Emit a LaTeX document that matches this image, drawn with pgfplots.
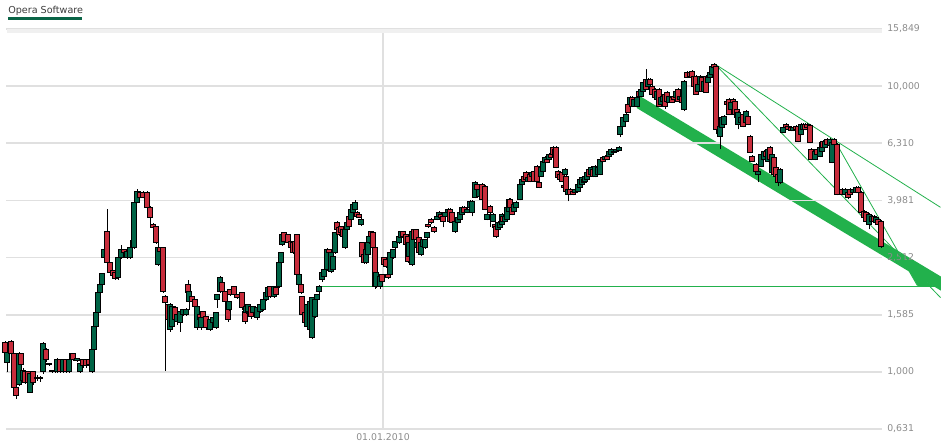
\documentclass[border=0pt]{standalone}
\usepackage{fontspec}
\setmainfont{DejaVu Sans}
\usepackage{pgfplots}
\usepackage{pgfplotstable}
\pgfplotsset{compat=1.18}
\definecolor{cgreen}{RGB}{0,100,70}
\definecolor{cred}{RGB}{200,45,60}
\definecolor{tline}{RGB}{34,177,76}
\definecolor{gridc}{RGB}{224,224,224}
\definecolor{labc}{RGB}{140,140,140}
\definecolor{titc}{RGB}{60,60,60}
\definecolor{uline}{RGB}{10,100,70}
\definecolor{topband}{RGB}{240,240,240}

\pgfdeclareplotmark{candle}{%
  \pgfsetlinewidth{0.6pt}%
  \pgfsetstrokecolor{black}%
  \pgfpathmoveto{\pgfqpoint{0pt}{\cwl pt}}%
  \pgfpathlineto{\pgfqpoint{0pt}{\cwh pt}}%
  \pgfusepathqstroke
  \ifdim\cbh pt<0pt \pgfsetfillcolor{cred}\else\pgfsetfillcolor{cgreen}\fi
  \pgfpathrectangle{\pgfqpoint{-1.7pt}{0pt}}{\pgfqpoint{3.4pt}{\cbh pt}}%
  \pgfusepathqfillstroke
}

\pgfplotstableread{
x o h l c
5 1.264 1.285 1.138 1.166
7 1.075 1.185 1.000 1.166
11 1.274 1.295 1.138 1.156
14 1.156 1.166 0.872 0.886
16 0.879 0.886 0.805 0.824
19 0.907 1.175 0.893 1.156
21 1.156 1.166 1.041 1.058
23 0.937 1.033 0.915 1.016
25 1.000 1.008 0.907 0.922
28 1.000 1.008 0.893 0.915
30 0.850 1.000 0.844 0.984
33 1.000 1.008 0.900 0.915
37 0.945 0.976 0.930 0.960
40 0.960 0.968 0.922 0.945
43 1.000 1.274 0.984 1.254
46 1.195 1.214 1.084 1.102
49 1.058 1.075 1.050 1.067
52 1.008 1.016 0.992 1.000
55 1.000 1.016 0.992 1.008
57 1.000 1.120 0.992 1.102
60 1.102 1.111 0.992 1.000
63 1.000 1.111 0.992 1.102
66 1.102 1.111 0.992 1.000
69 1.000 1.166 0.992 1.102
73 1.156 1.166 1.093 1.102
77 1.093 1.120 1.084 1.111
80 1.000 1.084 0.992 1.067
83 1.102 1.111 1.033 1.050
86 1.102 1.111 1.033 1.050
89 1.102 1.111 1.050 1.058
92 1.000 1.204 0.992 1.195
94 1.195 1.450 1.185 1.439
96 1.439 1.624 1.427 1.611
98 1.611 1.908 1.598 1.893
100 1.893 2.036 1.878 2.020
102 2.020 2.226 2.003 2.208
104 2.512 2.790 2.492 2.680
107 3.099 3.702 2.374 2.413
110 2.413 2.432 2.190 2.226
113 2.262 2.280 2.155 2.172
115 2.226 2.244 2.103 2.120
118 2.137 2.533 2.103 2.512
121 2.512 2.790 2.492 2.680
124 2.680 2.702 2.595 2.616
127 2.512 2.658 2.492 2.637
130 2.512 2.905 2.492 2.724
134 2.724 3.950 2.702 3.918
137 3.918 4.351 3.886 4.282
140 4.247 4.282 4.047 4.079
143 4.247 4.282 4.047 4.079
147 4.247 4.282 3.732 3.763
150 3.763 3.793 3.201 3.471
153 3.280 3.306 3.150 3.201
156 3.227 3.253 2.813 2.836
158 2.374 2.836 2.355 2.724
160 2.724 2.746 2.616 2.637
163 2.724 2.746 1.893 1.908
165 1.833 1.863 1.008 1.746
168 1.718 1.732 1.498 1.522
170 1.404 1.746 1.382 1.718
172 1.439 1.718 1.416 1.690
175 1.677 1.704 1.498 1.522
177 1.498 1.611 1.462 1.585
180 1.486 1.637 1.382 1.624
183 1.585 1.663 1.572 1.650
186 1.585 1.677 1.572 1.650
188 2.020 2.103 1.863 1.893
189 1.760 1.924 1.650 1.908
192 1.833 1.848 1.746 1.760
195 1.789 1.803 1.677 1.690
197 1.427 1.704 1.404 1.690
200 1.585 1.598 1.498 1.522
201 1.427 1.560 1.404 1.547
203 1.624 1.637 1.522 1.547
206 1.560 1.572 1.404 1.427
210 1.404 1.535 1.393 1.522
213 1.486 1.560 1.474 1.547
216 1.427 1.624 1.416 1.611
217 1.789 1.878 1.677 1.863
220 1.908 2.172 1.893 2.137
222 2.053 2.069 1.893 1.908
225 1.908 1.924 1.746 1.760
228 1.746 1.760 1.498 1.522
229 1.650 1.774 1.637 1.760
230 1.940 1.955 1.848 1.863
234 1.987 2.003 1.848 1.863
237 1.863 1.878 1.803 1.818
242 1.893 1.908 1.650 1.677
245 1.624 1.637 1.474 1.498
246 1.611 1.704 1.598 1.690
248 1.624 1.732 1.611 1.718
251 1.690 1.704 1.535 1.560
253 1.611 1.704 1.598 1.690
257 1.547 1.690 1.522 1.677
260 1.624 1.732 1.611 1.718
263 1.650 1.803 1.637 1.789
266 1.789 1.908 1.774 1.893
268 1.833 1.987 1.818 1.971
270 1.987 2.003 1.818 1.833
274 1.833 2.003 1.818 1.987
276 1.971 1.987 1.848 1.863
279 1.987 2.432 1.971 2.413
281 2.413 2.637 2.393 2.616
282 2.790 3.049 2.768 3.025
284 3.074 3.099 2.836 2.859
288 3.025 3.049 2.813 2.836
291 2.859 2.882 2.702 2.724
293 2.836 2.859 2.595 2.616
295 2.859 3.025 2.595 2.616
297 3.025 3.049 2.172 2.190
299 2.020 2.208 2.003 2.190
301 2.020 2.036 1.878 1.893
302 1.833 1.848 1.572 1.585
305 1.611 1.624 1.474 1.486
307 1.439 1.732 1.427 1.718
310 1.404 1.774 1.393 1.760
312 1.316 1.833 1.306 1.818
315 1.560 1.803 1.547 1.789
317 1.789 1.878 1.760 1.863
319 1.908 2.020 1.878 1.987
322 2.103 2.280 2.069 2.226
324 2.155 2.336 2.137 2.280
327 2.280 2.724 2.262 2.680
329 2.680 2.702 2.595 2.616
331 2.244 2.637 2.226 2.616
333 2.280 2.553 2.262 2.533
335 2.616 3.099 2.595 3.074
337 3.333 3.360 3.124 3.150
339 3.201 3.227 3.000 3.025
341 3.227 3.253 3.049 3.074
343 3.150 3.175 2.790 2.976
345 2.724 3.175 2.702 3.150
347 3.150 3.360 3.124 3.333
349 3.499 3.527 3.201 3.227
351 3.415 3.732 3.388 3.702
353 3.614 3.886 3.585 3.855
355 3.702 3.982 3.672 3.918
357 3.614 3.643 3.471 3.499
359 3.556 3.585 3.443 3.471
361 3.280 3.443 3.253 3.415
362 2.836 2.859 2.512 2.533
364 2.574 2.595 2.393 2.413
366 2.413 2.702 2.393 2.680
368 2.574 2.859 2.553 2.836
369 2.836 3.000 2.813 2.976
371 3.099 3.124 2.952 2.976
373 3.074 3.099 2.702 2.724
375 2.724 2.746 1.955 1.987
376 1.987 2.244 1.971 2.226
380 1.987 2.172 1.955 2.155
382 2.190 2.208 2.036 2.069
384 2.512 2.533 2.336 2.374
386 2.472 2.492 2.317 2.336
388 2.190 2.208 2.120 2.137
390 2.190 2.637 2.172 2.616
393 2.512 2.702 2.492 2.680
395 2.724 2.882 2.702 2.859
399 2.836 3.000 2.813 2.976
401 2.952 3.124 2.929 3.099
403 3.099 3.124 2.952 2.976
406 3.025 3.049 2.768 2.790
408 2.976 3.000 2.413 2.432
409 2.533 2.859 2.512 2.836
412 2.374 3.124 2.355 3.099
414 3.150 3.175 2.882 2.905
416 3.150 3.175 2.882 2.905
417 2.724 2.859 2.702 2.836
419 2.952 2.976 2.595 2.616
421 2.574 2.859 2.553 2.836
423 2.746 2.929 2.724 2.905
425 2.724 2.929 2.702 2.905
427 2.952 3.099 2.929 3.074
428 3.280 3.306 3.201 3.227
431 3.415 3.443 3.280 3.333
434 3.201 3.227 3.074 3.099
437 3.415 3.527 3.388 3.499
439 3.499 3.643 3.471 3.614
441 3.556 3.585 3.443 3.471
443 3.499 3.527 3.201 3.360
445 3.499 3.643 3.471 3.614
448 3.614 3.732 3.585 3.702
450 3.702 3.732 3.333 3.360
452 3.614 3.643 3.306 3.333
455 3.099 3.388 3.074 3.360
458 3.333 3.499 3.306 3.471
460 3.415 3.643 3.388 3.614
462 3.556 3.793 3.527 3.763
464 3.763 3.793 3.585 3.614
467 3.614 3.732 3.585 3.702
470 3.763 3.982 3.732 3.950
472 3.614 3.982 3.499 3.950
475 4.079 4.642 4.047 4.604
477 4.531 4.567 4.316 4.351
479 4.113 4.387 4.079 4.351
482 4.531 4.567 3.982 4.014
485 4.458 4.494 3.672 3.702
487 3.415 3.585 3.388 3.556
490 3.793 3.824 3.227 3.614
493 3.360 3.585 3.333 3.556
495 3.280 3.306 3.175 3.201
496 3.227 3.253 2.952 2.976
498 3.150 3.360 3.124 3.333
500 3.201 3.360 3.175 3.333
502 3.280 3.585 3.253 3.556
503 3.499 3.527 3.333 3.360
505 3.360 3.527 3.333 3.499
507 3.415 3.793 3.388 3.763
509 3.643 4.047 3.614 4.014
510 4.014 4.047 3.732 3.763
512 3.763 3.793 3.527 3.556
514 3.643 3.886 3.614 3.855
516 3.763 3.950 3.732 3.918
520 4.014 4.567 3.982 4.531
522 4.531 4.755 4.494 4.717
524 4.833 4.872 4.604 4.642
526 4.992 5.032 4.679 4.717
528 4.642 4.833 4.604 4.794
530 4.912 4.951 4.604 4.642
532 4.833 5.032 4.794 4.992
534 5.032 5.073 4.604 4.642
537 5.239 5.282 4.604 4.642
539 4.604 4.642 4.387 4.422
541 4.833 5.239 4.794 5.197
543 5.032 5.500 4.992 5.455
545 5.411 5.680 5.368 5.635
547 5.545 5.589 5.368 5.411
549 5.545 5.820 5.500 5.773
551 5.773 5.820 5.589 5.635
553 6.108 6.158 5.726 5.773
555 5.680 6.059 5.635 6.011
556 6.108 6.158 5.155 5.197
558 5.032 5.073 4.755 4.794
560 4.912 4.951 4.679 4.717
562 4.992 5.032 4.604 4.642
564 4.494 4.531 4.387 4.422
565 4.912 5.155 4.872 5.114
566 4.833 4.872 4.247 4.282
568 4.179 4.387 3.950 4.351
570 4.351 4.387 4.146 4.179
573 4.282 4.316 4.146 4.179
575 4.247 4.387 4.213 4.351
578 4.282 4.567 4.247 4.531
580 4.422 4.755 4.387 4.717
582 4.531 4.833 4.494 4.794
584 4.717 4.755 4.567 4.604
585 4.642 4.872 4.604 4.833
587 4.717 5.032 4.679 4.992
589 5.114 5.155 4.794 4.833
591 4.912 5.239 4.872 5.197
593 5.114 5.155 4.794 4.833
595 4.833 5.282 4.794 5.239
598 4.912 5.239 4.872 5.197
600 4.912 5.589 4.872 5.545
603 5.635 5.680 5.411 5.455
605 5.545 5.726 5.500 5.680
607 5.680 5.726 5.500 5.545
609 5.680 5.962 5.635 5.914
611 5.773 6.059 5.726 6.011
614 5.867 5.962 5.820 5.914
616 5.914 6.059 5.867 6.011
619 5.962 6.158 5.914 6.108
620 6.785 7.296 6.622 7.238
623 7.238 7.847 7.180 7.784
626 7.536 8.040 7.475 7.975
628 8.646 8.716 8.040 8.105
630 8.646 9.223 8.576 9.149
632 9.149 9.223 8.439 8.507
634 8.507 9.076 8.439 9.003
637 8.507 9.223 8.439 9.149
639 9.604 9.682 9.149 9.223
641 9.223 9.840 9.149 9.761
643 9.604 10.41 9.527 10.33
646 10.58 11.47 9.682 9.761
648 10.00 10.67 9.920 10.58
650 10.58 10.67 10.08 10.16
652 10.00 10.08 9.298 9.374
655 9.761 9.840 9.076 9.149
657 9.003 9.682 8.930 9.604
659 9.761 9.840 8.439 8.507
661 8.646 9.223 8.576 9.149
663 8.858 9.298 8.787 9.223
665 9.374 9.450 8.304 8.507
667 9.527 9.604 8.787 8.858
669 8.787 9.298 8.716 9.223
672 9.149 9.223 8.716 8.787
674 9.223 9.298 8.930 9.003
676 9.149 9.682 9.076 9.604
678 9.761 9.840 8.787 8.858
680 9.003 9.298 8.930 9.223
682 9.223 9.298 8.716 8.787
684 8.304 10.50 8.171 10.41
687 11.20 11.29 10.67 10.75
690 11.20 11.29 10.75 10.84
692 11.29 11.38 10.67 10.75
694 10.84 10.93 9.920 10.00
696 10.84 10.93 9.298 9.374
698 9.604 10.24 9.527 10.16
700 10.16 10.93 10.08 10.84
702 10.75 10.84 9.527 9.604
704 9.604 10.50 9.527 10.41
706 10.84 10.93 9.450 9.527
708 10.33 10.84 10.24 10.75
710 10.75 11.29 10.67 11.20
712 11.02 11.85 10.93 11.75
714 11.94 12.04 11.56 11.66
716 11.75 11.85 6.785 7.065
720 6.676 7.296 6.011 7.238
722 7.180 7.847 7.122 7.784
724 7.356 7.911 7.296 7.847
727 8.858 8.930 8.576 8.646
729 9.003 9.076 7.911 7.975
731 8.304 8.858 8.237 8.787
733 9.003 9.076 8.716 8.787
735 8.858 8.930 7.911 7.975
737 8.304 8.371 7.721 7.784
738 7.356 8.171 7.065 8.105
741 7.475 7.847 7.415 7.784
743 7.975 8.040 7.180 7.238
746 7.475 8.237 7.415 8.171
748 7.847 7.911 7.296 7.356
750 6.676 6.730 5.820 5.867
752 5.680 5.726 5.411 5.455
756 5.325 5.368 4.992 5.032
758 4.912 5.073 4.604 5.032
761 5.239 5.820 5.197 5.773
764 5.545 5.962 5.500 5.914
766 5.914 5.962 5.635 5.680
768 5.455 6.059 5.411 6.011
770 6.108 6.158 5.500 5.545
772 4.992 5.820 4.951 5.773
774 5.635 5.680 4.872 4.912
776 5.197 5.239 4.794 4.833
778 4.912 4.951 4.458 4.604
780 4.604 5.155 4.531 5.114
783 6.895 7.238 6.840 7.180
786 7.356 7.415 7.122 7.180
788 7.238 7.296 7.007 7.065
791 7.180 7.238 6.951 7.007
793 7.007 7.238 6.951 7.180
796 7.238 7.296 7.007 7.065
798 7.238 7.296 6.360 6.412
801 6.785 7.415 6.730 7.356
803 7.065 7.415 7.007 7.356
805 7.356 7.415 7.007 7.065
807 7.356 7.415 7.122 7.180
810 7.296 7.356 6.309 6.360
811 6.011 6.059 5.500 5.545
815 5.545 5.962 5.500 5.914
817 6.011 6.059 5.726 5.773
820 5.680 6.158 5.635 6.108
822 5.914 6.412 5.867 6.360
823 6.412 6.464 6.059 6.108
825 6.108 6.464 6.059 6.412
827 6.516 6.569 6.208 6.259
830 6.208 6.569 6.158 6.516
832 5.411 6.412 5.368 6.360
834 6.516 6.569 6.208 6.259
837 6.259 6.309 4.146 4.179
842 4.351 4.387 4.146 4.179
845 4.179 4.387 4.146 4.351
848 4.247 4.282 4.014 4.079
850 4.351 4.387 4.146 4.179
853 4.247 4.387 4.213 4.351
856 4.247 4.458 4.213 4.422
858 4.422 4.458 4.213 4.247
861 4.247 4.282 3.585 3.614
864 3.643 3.672 3.443 3.471
866 3.614 3.643 3.333 3.360
869 3.280 3.585 3.150 3.556
872 3.360 3.527 3.333 3.499
874 3.499 3.527 3.333 3.360
876 3.333 3.499 3.306 3.471
878 3.415 3.443 3.253 3.280
881 3.360 3.388 2.724 2.746
}\candles

\begin{document}
\begin{tikzpicture}
\fill[topband] (5.25pt,310.5pt) rectangle (661.5pt,313.5pt);
\node[anchor=west, inner sep=0pt, text=titc, font=\fontsize{7.2}{8}\selectfont] at (6pt,327pt) {Opera Software};
\fill[uline] (6pt,320.25pt) rectangle (61.5pt,322.5pt);
\begin{axis}[
  at={(4.5pt,13.5pt)}, anchor=south west,
  scale only axis, width=657pt, height=300pt,
  xmin=6, xmax=882,
  ymode=log, ymin=0.631, ymax=15.849,
  clip=false, set layers=standard,
  axis line style={draw=none},
  major tick length=0pt,
  ytick={0.631,1,1.585,2.512,3.981,6.31,10,15.849},
  yticklabels={{0,631},{1,000},{1,585},{2,512},{3,981},{6,310},{10,000},{15,849}},
  yticklabel pos=right,
  xtick={383}, xticklabels={01.01.2010},
  xmajorgrids, ymajorgrids,
  grid style={draw=gridc, line width=1.2pt},
  tick label style={font=\fontsize{7}{8}\selectfont, text=labc},
  yticklabel style={anchor=west, inner sep=0pt, xshift=3.75pt},
  xticklabel style={anchor=north, inner sep=0pt, yshift=-3.5pt},
]
% green band and triangle (behind the grid)
\addplot[on layer=axis background, fill=tline, draw=none] coordinates {(634,9.003) (640,9.223) (941,2.155) (941,1.924) (637,8.371)};
\addplot[on layer=axis background, fill=tline, draw=none] coordinates {(908.7,2.267) (918,1.995) (934,1.995)};
% thin trend lines
\addplot[tline, line width=0.6pt, mark=none] coordinates {(318,1.995) (940.5,1.995)};
\addplot[tline, line width=0.6pt, mark=none] coordinates {(715,11.94) (940.5,3.766)};
\addplot[tline, line width=0.6pt, mark=none] coordinates {(715,11.94) (940.5,1.820)};
\addplot[tline, line width=0.6pt, mark=none] coordinates {(834,6.516) (917.4,2.003)};
% candles
\addplot[scatter, only marks, mark=candle,
  scatter/@pre marker code/.code={}, scatter/@post marker code/.code={},
  visualization depends on={ln(\thisrow{c}/\thisrow{o})*93.07 \as \cbh},
  visualization depends on={ln(\thisrow{h}/\thisrow{o})*93.07 \as \cwh},
  visualization depends on={ln(\thisrow{l}/\thisrow{o})*93.07 \as \cwl},
] table[x=x, y=o] {\candles};
\end{axis}
\pgfresetboundingbox
\path[use as bounding box] (0,0) rectangle (705.75pt,335.25pt);
\end{tikzpicture}
\end{document}
